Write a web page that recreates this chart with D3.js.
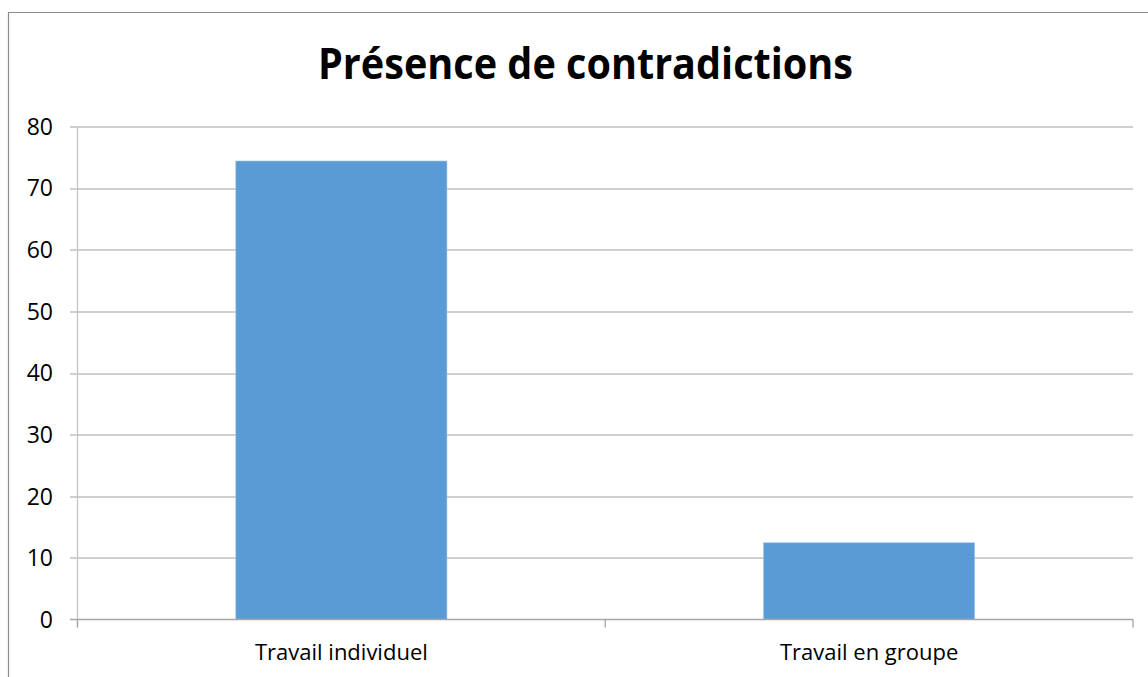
<!DOCTYPE html>
<html lang="fr">
<head>
<meta charset="utf-8">
<title>Présence de contradictions</title>
<script src="https://d3js.org/d3.v7.min.js"></script>
<style>
  body { margin: 0; background: #fff; }
  text { font-family: "Open Sans", "Noto Sans", sans-serif; fill: #000; }
</style>
</head>
<body>
<svg id="chart"></svg>
<script>
    const categories = ["Travail individuel", "Travail en groupe"];
    const values = [74.4, 12.45];
    const yTicks = [0, 10, 20, 30, 40, 50, 60, 70, 80];
    const title = "Présence de contradictions";

    let width = 1148,
        height = 677,
        margin = {top: 126.5, right: 15, bottom: 57.5, left: 77.5},
        chartWidth = width - margin.left - margin.right,
        chartHeight = height - margin.top - margin.bottom;

    let svg = d3.select("#chart")
        .attr("width", width)
        .attr("height", height);

    // outer chart frame (cut by the window on right and bottom)
    svg.append("path")
        .attr("d", "M8.5,690 V12.5 H1160")
        .attr("fill", "none")
        .attr("stroke", "#8c8c8c")
        .attr("stroke-width", 1.2);

    svg.append("text")
        .attr("x", 585.5)
        .attr("y", 79)
        .attr("text-anchor", "middle")
        .attr("font-size", 43)
        .attr("font-weight", "bold")
        .attr("textLength", 535)
        .attr("lengthAdjust", "spacingAndGlyphs")
        .text(title);

    let g = svg.append("g")
        .attr("transform", `translate(${margin.left},${margin.top})`);

    let x = d3.scaleBand()
        .domain(categories)
        .range([0, chartWidth])
        .paddingInner(0.6)
        .paddingOuter(0.3);

    let y = d3.scaleLinear()
        .domain([0, 80])
        .range([chartHeight, 0]);

    // gridlines
    g.append("g")
        .selectAll("line")
        .data(yTicks.filter(d => d > 0))
        .join("line")
        .attr("x1", -7.5)
        .attr("x2", chartWidth)
        .attr("y1", d => Math.round(y(d)) + 0.5)
        .attr("y2", d => Math.round(y(d)) + 0.5)
        .attr("stroke", "#bfbfbf")
        .attr("stroke-width", 1.3);

    // y axis
    g.append("line")
        .attr("x1", 0).attr("x2", 0)
        .attr("y1", 0).attr("y2", chartHeight + 8)
        .attr("stroke", "#c4c4c4")
        .attr("stroke-width", 1.3);

    g.append("g")
        .selectAll("text")
        .data(yTicks)
        .join("text")
        .attr("x", -24.5)
        .attr("y", d => y(d))
        .attr("dy", "0.36em")
        .attr("text-anchor", "end")
        .attr("font-size", 23)
        .text(d => d);

    // bars
    g.append("g")
        .selectAll("rect")
        .data(values)
        .join("rect")
        .attr("x", (d, i) => x(categories[i]))
        .attr("width", x.bandwidth())
        .attr("y", d => y(d))
        .attr("height", d => chartHeight - y(d))
        .attr("fill", "#5b9bd5")
        .attr("stroke", "#9dc3e6")
        .attr("stroke-width", 0.6);

    // x axis
    g.append("line")
        .attr("x1", -7.5).attr("x2", chartWidth)
        .attr("y1", chartHeight).attr("y2", chartHeight)
        .attr("stroke", "#a6a6a6")
        .attr("stroke-width", 1.3);

    let xTickPos = [0].concat(categories.map(c => x(c) + x.bandwidth() / 2 + x.step() / 2));
    g.append("g")
        .selectAll("line")
        .data(xTickPos)
        .join("line")
        .attr("x1", d => d).attr("x2", d => d)
        .attr("y1", chartHeight).attr("y2", chartHeight + 8)
        .attr("stroke", "#a6a6a6")
        .attr("stroke-width", 1.3);

    g.append("g")
        .selectAll("text")
        .data(categories)
        .join("text")
        .attr("x", d => x(d) + x.bandwidth() / 2)
        .attr("y", chartHeight + 40)
        .attr("text-anchor", "middle")
        .attr("font-size", 22)
        .text(d => d);
</script>
</body>
</html>
